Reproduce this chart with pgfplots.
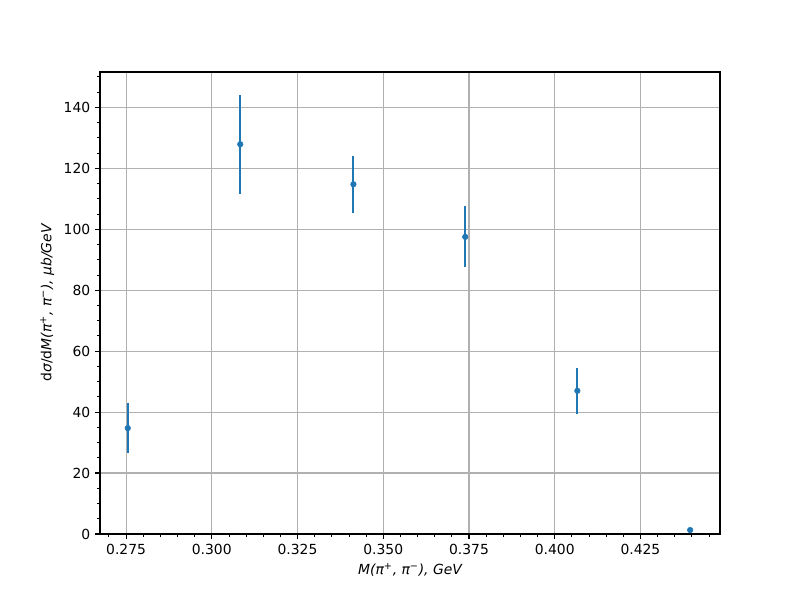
\documentclass[border=0pt]{standalone}
\usepackage{fontspec}
\setmainfont{DejaVu Sans}
\usepackage{pgfplots}
\pgfplotsset{compat=1.18}
\definecolor{mplblue}{HTML}{1F77B4}
\definecolor{mplgrid}{HTML}{B0B0B0}

\begin{document}
\begin{tikzpicture}
\path[use as bounding box] (-72pt,-47.52pt) rectangle (504pt,384.48pt);
\begin{axis}[
  at={(0,0)}, anchor=south west, scale only axis,
  width=446.4pt, height=332.64pt,
  xmin=0.2674, xmax=0.4482, ymin=0, ymax=151.6,
  xtick={0.275,0.300,0.325,0.350,0.375,0.400,0.425},
  minor xtick={0.270,0.280,0.285,0.290,0.295,0.305,0.310,0.315,0.320,0.330,0.335,0.340,0.345,0.355,0.360,0.365,0.370,0.380,0.385,0.390,0.395,0.405,0.410,0.415,0.420,0.430,0.435,0.440,0.445},
  ytick={0,20,40,60,80,100,120,140},
  minor ytick={5,10,15,25,30,35,45,50,55,65,70,75,85,90,95,105,110,115,125,130,135,145,150},
  xticklabel style={/pgf/number format/fixed, /pgf/number format/fixed zerofill, /pgf/number format/precision=3},
  scaled x ticks=false,
  /pgf/number format/assume math mode=true,
  tick label style={font=\fontsize{10}{12}\selectfont},
  label style={font=\fontsize{10}{12}\selectfont},
  grid=major,
  major grid style={mplgrid, line width=0.8pt},
  axis line style={black, line width=0.8pt},
  tick align=outside, xtick pos=lower, ytick pos=left,
  major tick length=3.5pt, minor tick length=2pt,
  every tick/.style={black, line width=0.8pt},
  minor tick style={black, line width=0.6pt},
  xlabel={\itshape M(π\textsuperscript{+}, π\textsuperscript{−}), GeV},
  ylabel={d\textit{σ}/d\textit{M}\itshape(π\textsuperscript{+}, π\textsuperscript{−}), μb/GeV},
]
\addplot[only marks, mark=*, color=mplblue, mark size=2pt,
  error bars/.cd, y dir=both, y explicit,
  error bar style={line width=1.5pt, mplblue}, error mark=none]
coordinates {
  (0.2755,34.75) +- (0,8.3)
  (0.3083,127.9) +- (0,16.3)
  (0.3413,114.75) +- (0,9.3)
  (0.3739,97.5) +- (0,10.0)
  (0.4066,47.0) +- (0,7.6)
  (0.4395,1.3) +- (0,0.0)
};
\end{axis}
\end{tikzpicture}
\end{document}
